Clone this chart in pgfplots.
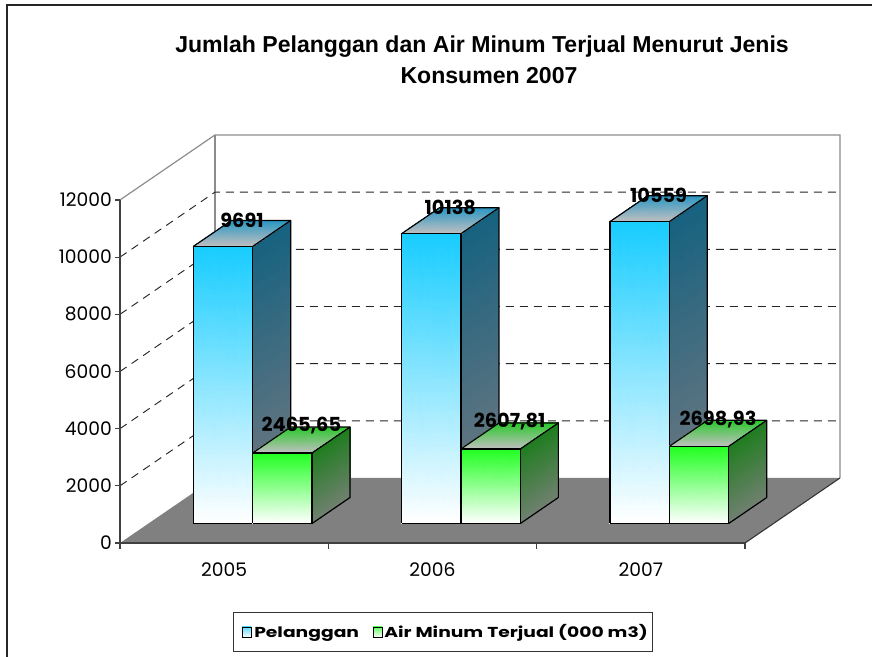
\documentclass[border=0pt]{standalone}
\usepackage{pgfplots}
\pgfplotsset{compat=1.18}
\usepackage{fontspec}
\setmainfont{Poppins}
\newfontfamily\titlefont{Liberation Sans}
\newfontfamily\legfont[FakeStretch=1.3]{Poppins}

\definecolor{bft}{RGB}{22,204,255}
\definecolor{bst}{RGB}{22,98,128}
\definecolor{bsb}{RGB}{118,122,128}
\definecolor{btb}{RGB}{40,150,195}
\definecolor{gft}{RGB}{30,255,30}
\definecolor{gst}{RGB}{30,125,30}
\definecolor{gsb}{RGB}{112,128,112}
\definecolor{gtb}{RGB}{40,200,40}
\definecolor{tfr}{RGB}{192,192,192}
\definecolor{floorc}{RGB}{128,128,128}
\definecolor{wallc}{RGB}{140,140,140}

% #1 x0, #2 x1, #3 value, #4 front top, #5 side top, #6 side bottom, #7 top back
\newcommand{\barbox}[7]{%
  \addplot3[patch, patch type=rectangle, shader=interp,
    mesh/color input=explicit, point meta=explicit symbolic] coordinates {
    (#1,0.3,0) [color=white] (#2,0.3,0) [color=white] (#2,0.3,#3) [color=#4] (#1,0.3,#3) [color=#4]
    (#2,0.3,0) [color=#6] (#2,0.7,0) [color=#6] (#2,0.7,#3) [color=#5] (#2,0.3,#3) [color=#5]
    (#1,0.3,#3) [color=tfr] (#2,0.3,#3) [color=tfr] (#2,0.7,#3) [color=#7] (#1,0.7,#3) [color=#7]
  };
  \addplot3[black, line width=0.9pt, mark=none, line join=round] coordinates {
    (#1,0.3,0) (#2,0.3,0) (#2,0.3,#3) (#1,0.3,#3) (#1,0.3,0)};
  \addplot3[black, line width=0.9pt, mark=none, line join=round] coordinates {
    (#2,0.3,0) (#2,0.7,0) (#2,0.7,#3) (#2,0.3,#3)};
  \addplot3[black, line width=0.9pt, mark=none, line join=round] coordinates {
    (#1,0.3,#3) (#1,0.7,#3) (#2,0.7,#3)};
}

\begin{document}
\begin{tikzpicture}
\begin{axis}[
  anchor=origin, at={(0,0)},
  x={(156.25pt,0pt)}, y={(71.25pt,48.75pt)}, z={(0pt,0.0214375pt)},
  xmin=0, xmax=3, ymin=0, ymax=1, zmin=0, zmax=12000,
  hide axis, clip=false,
]
% floor and walls
\fill[floorc] (axis cs:0,0,0) -- (axis cs:3,0,0) -- (axis cs:3,1,0) -- (axis cs:0,1,0) -- cycle;
\draw[wallc, line width=0.9pt] (axis cs:0,0,12000) -- (axis cs:0,1,12000) -- (axis cs:3,1,12000) -- (axis cs:3,1,0);
\draw[wallc, line width=0.9pt] (axis cs:0,1,0) -- (axis cs:0,1,12000);
\draw[black!80, line width=0.8pt] (axis cs:3,0,0) -- (axis cs:3,1,0);
\pgfplotsinvokeforeach{2000,4000,6000,8000,10000}{
  \draw[black!85, line width=0.7pt, dash pattern=on 6pt off 4.5pt]
    (axis cs:0,0,#1) -- (axis cs:0,1,#1) -- (axis cs:3,1,#1);
}
% front axis
\draw[black!75, line width=0.9pt] (axis cs:0,0,12000) -- (axis cs:0,0,0) -- (axis cs:3,0,0);
\pgfplotsinvokeforeach{0,2000,4000,6000,8000,10000,12000}{
  \draw[black!75, line width=0.9pt] (axis cs:0,0,#1) -- ++(-4pt,0pt);
  \node[anchor=east, inner sep=0pt, xshift=-6pt, font=\fontsize{14}{16}\selectfont] at (axis cs:0,0,#1) {#1};
}
\pgfplotsinvokeforeach{0,1,2,3}{
  \draw[black!75, line width=0.9pt] (axis cs:#1,0,0) -- ++(0pt,-4.5pt);
}
\node[anchor=base, inner sep=0pt, yshift=-25.5pt, font=\fontsize{14}{16}\selectfont] at (axis cs:0.5,0,0) {2005};
\node[anchor=base, inner sep=0pt, yshift=-25.5pt, font=\fontsize{14}{16}\selectfont] at (axis cs:1.5,0,0) {2006};
\node[anchor=base, inner sep=0pt, yshift=-25.5pt, font=\fontsize{14}{16}\selectfont] at (axis cs:2.5,0,0) {2007};

% bars
\barbox{0.215}{0.5}{9691}{bft}{bst}{bsb}{btb}
\barbox{0.5}{0.785}{2465.65}{gft}{gst}{gsb}{gtb}
\barbox{1.215}{1.5}{10138}{bft}{bst}{bsb}{btb}
\barbox{1.5}{1.785}{2607.81}{gft}{gst}{gsb}{gtb}
\barbox{2.215}{2.5}{10559}{bft}{bst}{bsb}{btb}
\barbox{2.5}{2.785}{2698.93}{gft}{gst}{gsb}{gtb}

% data labels
\addplot3[draw=none, mark=none, nodes near coords, point meta=explicit symbolic,
  nodes near coords style={font=\bfseries\fontsize{14.5}{16}\selectfont, anchor=south, inner sep=1.5pt, yshift=2.5pt, text=black}]
  coordinates {
  (0.3575,0.5,9691) [9691]
  (1.3575,0.5,10138) [10138]
  (2.3575,0.5,10559) [10559]
  (0.6425,0.5,2465.65) [{2465,65}]
  (1.6425,0.5,2607.81) [{2607,81}]
  (2.6425,0.5,2698.93) [{2698,93}]
};
\end{axis}

\begin{scope}[x=0.75pt, y=-0.75pt, shift={(-120,-543)}]
  \draw[black!85, line width=1.3pt] (7,5) rectangle (890,680);
  \node[anchor=base, inner sep=0pt, font=\titlefont\bfseries\fontsize{17.3}{20}\selectfont] at (482,53) {Jumlah Pelanggan dan Air Minum Terjual Menurut Jenis};
  \node[anchor=base, inner sep=0pt, font=\titlefont\bfseries\fontsize{17.3}{20}\selectfont] at (489,84) {Konsumen 2007};
  % legend
  \draw[black!80, line width=0.75pt] (233,613) rectangle (652,651);
  \shade[top color=bft!70, bottom color=white, draw=black, line width=0.6pt] (242,627) rectangle (251,637);
  \shade[top color=gft!70, bottom color=white, draw=black, line width=0.6pt] (373,627) rectangle (382,637);
  \node[anchor=base west, inner sep=0pt, font=\legfont\bfseries\fontsize{10.8}{12}\selectfont] at (254,637) {Pelanggan};
  \node[anchor=base west, inner sep=0pt, font=\legfont\bfseries\fontsize{10.8}{12}\selectfont] at (384,637) {Air Minum Terjual (000 m3)};
  \pgfresetboundingbox
  \path[use as bounding box] (0,0) rectangle (872,657);
\end{scope}
\end{tikzpicture}
\end{document}
